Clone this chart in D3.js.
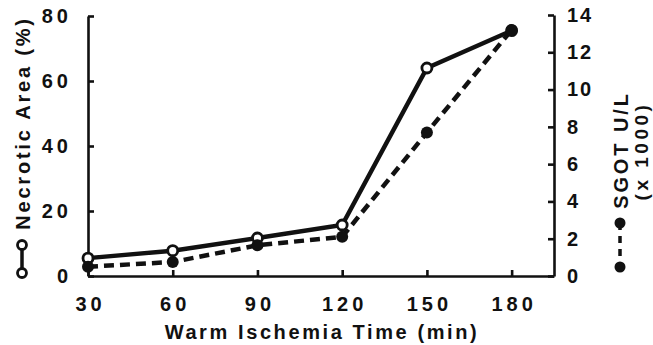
<!DOCTYPE html>
<html><head><meta charset="utf-8">
<script src="https://cdn.jsdelivr.net/npm/d3@7"></script>
<style>
body{margin:0;background:#fff;}
svg{display:block;}
text{font-family:"Liberation Sans",Arial,sans-serif;font-weight:bold;fill:#111;}
</style></head><body>
<svg id="c" width="653" height="345"></svg>
<script>
const times = [30, 60, 90, 120, 150, 180];
const necroticArea = [5.5, 7.8, 11.7, 15.7, 64, 75.5];
const sgot = [0.5, 0.75, 1.65, 2.1, 7.7, 13.2];
const xTicks = [30, 60, 90, 120, 150, 180];
const yLeftTicks = [0, 20, 40, 60, 80];
const yRightTicks = [0, 2, 4, 6, 8, 10, 12, 14];

const svg = d3.select("#c");
const x = d3.scaleLinear().domain([30, 195]).range([88, 554]);
const yL = d3.scaleLinear().domain([0, 80]).range([276, 16]);
const yR = d3.scaleLinear().domain([0, 14]).range([276, 15]);

function styleAxis(g, ls){
  g.selectAll("path.domain").attr("stroke","#111").attr("stroke-width",2.6);
  g.selectAll(".tick line").attr("stroke","#111").attr("stroke-width",2.6);
  g.selectAll(".tick text").attr("font-size",20).attr("font-family","Liberation Sans, Arial, sans-serif")
    .attr("font-weight","bold").attr("fill","#111").style("letter-spacing",ls+"px");
}

const gx = svg.append("g").attr("transform","translate(0,276)")
  .call(d3.axisBottom(x).tickValues(xTicks).tickSizeInner(-6).tickSizeOuter(0).tickPadding(21));
styleAxis(gx, 4);
gx.selectAll(".tick text").attr("dx","2px");
const gl = svg.append("g").attr("transform","translate(88,0)")
  .call(d3.axisLeft(yL).tickValues(yLeftTicks).tickSizeInner(-6).tickSizeOuter(0).tickPadding(16));
styleAxis(gl, 4);
const gr = svg.append("g").attr("transform","translate(554,0)")
  .call(d3.axisRight(yR).tickValues(yRightTicks).tickSizeInner(-6).tickSizeOuter(0).tickPadding(13));
styleAxis(gr, 2);

// lines
const lineN = d3.line().x((d,i)=>x(times[i])).y(d=>yL(d));
const lineS = d3.line().x((d,i)=>x(times[i])).y(d=>yR(d));
svg.append("path").datum(sgot).attr("d",lineS).attr("fill","none").attr("stroke","#111")
  .attr("stroke-width",4.5).attr("stroke-dasharray","10,6");
svg.append("path").datum(necroticArea).attr("d",lineN).attr("fill","none").attr("stroke","#111")
  .attr("stroke-width",4.5);

svg.selectAll("circle.n").data(necroticArea).enter().append("circle").attr("class","n")
  .attr("cx",(d,i)=>x(times[i])).attr("cy",d=>yL(d)).attr("r",5)
  .attr("fill","#fff").attr("stroke","#111").attr("stroke-width",2.8);
svg.selectAll("circle.s").data(sgot).enter().append("circle").attr("class","s")
  .attr("cx",(d,i)=>x(times[i])).attr("cy",d=>yR(d)).attr("r",6)
  .attr("fill","#111");

// axis titles
svg.append("text").attr("x",(88+554)/2 + 1).attr("y",339).attr("text-anchor","middle")
  .attr("font-size",20).style("letter-spacing","2.6px").text("Warm Ischemia Time (min)");
svg.append("text").attr("transform","translate(30,123) rotate(-90)").attr("text-anchor","middle")
  .attr("font-size",20).style("letter-spacing","2.8px").text("Necrotic Area (%)");
svg.append("text").attr("transform","translate(628,150) rotate(-90)").attr("text-anchor","middle")
  .attr("font-size",20).style("letter-spacing","2.9px").text("SGOT U/L");
svg.append("text").attr("transform","translate(648,151) rotate(-90)").attr("text-anchor","middle")
  .attr("font-size",19).style("letter-spacing","3.5px").text("(x 1000)");

// legend glyphs
svg.append("line").attr("x1",22).attr("x2",22).attr("y1",245).attr("y2",273).attr("stroke","#111").attr("stroke-width",3.5);
[245,273].forEach(cy=>svg.append("circle").attr("cx",22).attr("cy",cy).attr("r",4.5).attr("fill","#fff").attr("stroke","#111").attr("stroke-width",2.8));
svg.append("line").attr("x1",620).attr("x2",620).attr("y1",223).attr("y2",267).attr("stroke","#111").attr("stroke-width",3.5).attr("stroke-dasharray","7,6");
[223,267].forEach(cy=>svg.append("circle").attr("cx",620).attr("cy",cy).attr("r",5.5).attr("fill","#111"));
</script>
</body></html>
